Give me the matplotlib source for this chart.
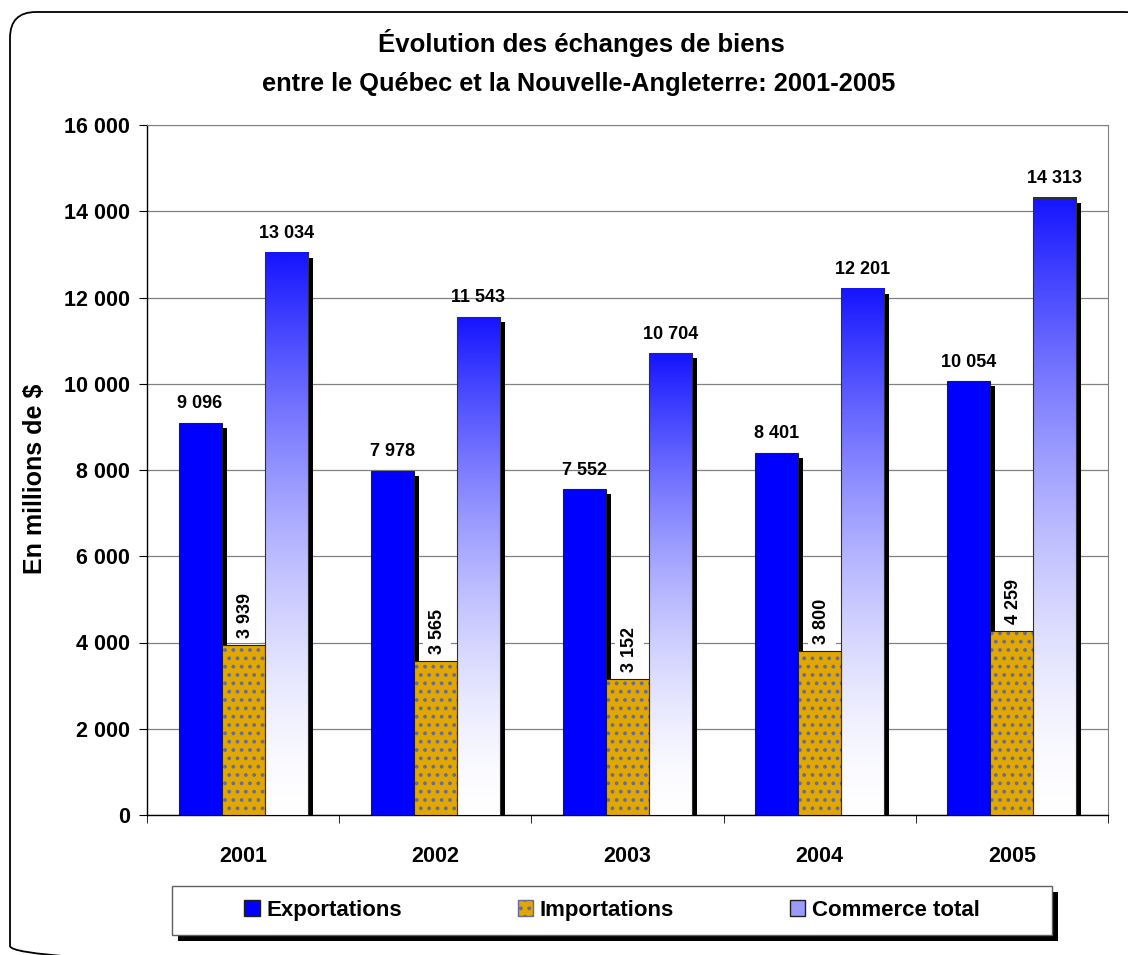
import numpy as np
import matplotlib
matplotlib.use('Agg')
import matplotlib.pyplot as plt
from matplotlib.patches import FancyBboxPatch, Rectangle, Patch
from matplotlib.colors import LinearSegmentedColormap
import matplotlib.transforms as mtransforms

annees = ['2001', '2002', '2003', '2004', '2005']
exportations = [9096, 7978, 7552, 8401, 10054]
importations = [3939, 3565, 3152, 3800, 4259]
commerce_total = [13034, 11543, 10704, 12201, 14313]
yticks = np.arange(0, 16001, 2000)

def fmt(v):
	return '{:,}'.format(int(v)).replace(',', ' ')

plt.rcParams['font.family'] = ['Liberation Sans', 'DejaVu Sans']
plt.rcParams['font.weight'] = 'bold'
plt.rcParams['hatch.linewidth'] = 1.5

fig = plt.figure(figsize=(11.28, 9.55), dpi=100)

# fond en pixels: cadre arrondi et boite de legende
bg = fig.add_axes([0, 0, 1, 1], zorder=0)
bg.set_xlim(0, 1128); bg.set_ylim(955, 0); bg.axis('off')
bg.add_patch(FancyBboxPatch((10, 12), 1140, 960, boxstyle='round,pad=0,rounding_size=26',
	fill=False, edgecolor='black', linewidth=1.3))
bg.add_patch(Rectangle((178, 892), 880, 49, facecolor='black', edgecolor='none'))
bg.add_patch(Rectangle((172, 886), 880, 49, facecolor='white', edgecolor='#606060', linewidth=1.0))

ax = fig.add_axes([147/1128, 1-815/955, (1108-147)/1128, (815-125)/955], zorder=1)

w = 0.224
x = np.arange(len(annees))
ombre = mtransforms.offset_copy(ax.transData, fig=fig, x=5, y=-5, units='dots')

# ombres
for i in range(len(annees)):
	for j, v in enumerate([exportations[i], importations[i], commerce_total[i]]):
		ax.add_patch(Rectangle((x[i] + (j-1)*w - w/2, 0), w, v, transform=ombre,
			facecolor='black', edgecolor='none', zorder=2))

ax.bar(x - w, exportations, w, color='#0000ff', edgecolor='#202020', linewidth=0.8, zorder=3)
ax.bar(x, importations, w, color='#e0a800', edgecolor='#6a6a9a', hatch='..', linewidth=0, zorder=3)
ax.bar(x, importations, w, fill=False, edgecolor='#202020', linewidth=0.8, zorder=4)

# degrade du commerce total
t = np.linspace(0, 1, 256)
f = t ** 1.6
cols = np.ones((256, 3))
cols[:, 0] = 1 - f * 0.92
cols[:, 1] = 1 - f * 0.92
cmap = LinearSegmentedColormap.from_list('deg', cols)
grad = t.reshape(-1, 1)
for i in range(len(annees)):
	x0 = x[i] + w/2
	ax.imshow(grad, extent=[x0, x0+w, 0, commerce_total[i]], origin='lower', cmap=cmap,
		aspect='auto', zorder=3, interpolation='bicubic')
	ax.add_patch(Rectangle((x0, 0), w, commerce_total[i], fill=False, edgecolor='#303030',
		linewidth=0.8, zorder=4))

for i in range(len(annees)):
	ax.text(x[i] - w, exportations[i] + 250, fmt(exportations[i]), ha='center', va='bottom',
		fontsize=13, fontweight='bold', zorder=5)
	ax.text(x[i] + w, commerce_total[i] + 250, fmt(commerce_total[i]), ha='center', va='bottom',
		fontsize=13, fontweight='bold', zorder=5)
	ax.text(x[i] + 0.01, importations[i] + 170, fmt(importations[i]), ha='center', va='bottom',
		rotation=90, fontsize=13, fontweight='bold', zorder=5,
		bbox=dict(facecolor='white', edgecolor='none', pad=4))

ax.set_xlim(-0.5, 4.5)
ax.set_ylim(0, 16000)
ax.set_yticks(yticks)
ax.set_yticklabels([fmt(v) for v in yticks], fontsize=15.5, fontweight='bold')
ax.set_xticks(x)
ax.set_xticklabels(annees, fontsize=15.5, fontweight='bold')
ax.tick_params(axis='x', length=0, pad=22)
ax.set_xticks(np.arange(-0.5, 5, 1), minor=True)
ax.tick_params(axis='x', which='minor', length=6, direction='out', color='black')
ax.tick_params(axis='y', length=6, direction='out', color='black', pad=6)
ax.yaxis.grid(True, color='#808080', linewidth=0.9, zorder=0)
ax.set_axisbelow(True)
for s in ['top', 'right']:
	ax.spines[s].set_color('#808080')
for s in ['left', 'bottom']:
	ax.spines[s].set_color('black')
	ax.spines[s].set_linewidth(1.0)
ax.set_ylabel('En millions de $', fontsize=18, fontweight='bold', va='center')
ax.yaxis.set_label_coords(-0.117, 0.487)

fig.text(581/1128, 1-43/955, 'Évolution des échanges de biens', ha='center', va='center', fontsize=18.5, fontweight='bold')
fig.text(579/1128, 1-84/955, 'entre le Québec et la Nouvelle-Angleterre: 2001-2005', ha='center', va='center', fontsize=18.3, fontweight='bold')

# legende
handles = [Patch(facecolor='#0000ff', edgecolor='#202020'),
	Patch(facecolor='#e0a800', edgecolor='#6a6a9a', hatch='..'),
	Patch(facecolor='#9a9aff', edgecolor='#202020')]
leg = fig.legend(handles, ['Exportations', 'Importations', 'Commerce total'], ncol=3,
	loc='center', bbox_to_anchor=(612/1128, 1-910/955), frameon=False, fontsize=16,
	handlelength=0.7, handleheight=0.7, handletextpad=0.3, columnspacing=5.2)
leg.set_zorder(5)

fig.savefig('out.png', dpi=100)
